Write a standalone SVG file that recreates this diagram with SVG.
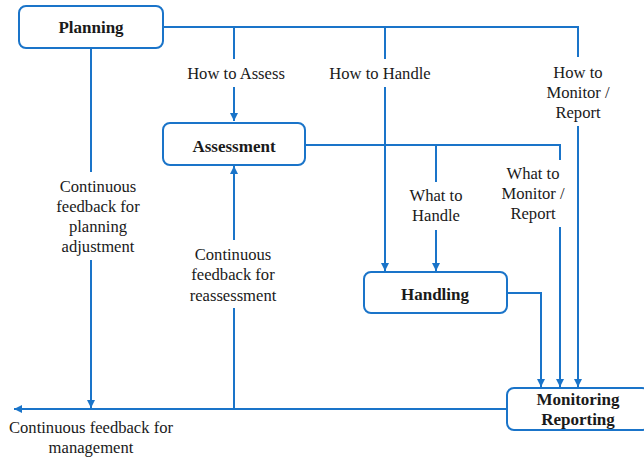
<svg xmlns="http://www.w3.org/2000/svg" width="644" height="461" viewBox="0 0 644 461">
<style>
.box{fill:#fff;stroke:#1a74c9;stroke-width:2}
.ln{fill:none;stroke:#1a74c9;stroke-width:2}
.t{font-family:"Liberation Serif","Times New Roman",serif;font-size:16.6px;fill:#1a1a1a;text-anchor:middle}
.b{font-family:"Liberation Serif","Times New Roman",serif;font-size:17px;font-weight:bold;fill:#1a1a1a;text-anchor:middle}
</style>
<defs>
<marker id="ah" viewBox="0 0 10 10" refX="10" refY="5" markerWidth="4" markerHeight="4" orient="auto" markerUnits="strokeWidth">
<path d="M0,0 L10,5 L0,10 z" fill="#1a74c9"/>
</marker>
</defs>
<rect width="644" height="461" fill="#fff"/>
<g id="connectors">
<path class="ln" d="M163,27 H578 V57"/>
<path class="ln" d="M578,126 V387" marker-end="url(#ah)"/>
<path class="ln" d="M234,27 V59"/>
<path class="ln" d="M234,87 V121" marker-end="url(#ah)"/>
<path class="ln" d="M385,27 V59"/>
<path class="ln" d="M385,87 V271" marker-end="url(#ah)"/>
<path class="ln" d="M305,145 H560 V160"/>
<path class="ln" d="M436,145 V182"/>
<path class="ln" d="M436,230 V271" marker-end="url(#ah)"/>
<path class="ln" d="M560,227 V387" marker-end="url(#ah)"/>
<path class="ln" d="M507,293 H541 V387" marker-end="url(#ah)"/>
<path class="ln" d="M507,409 H14" marker-end="url(#ah)"/>
<path class="ln" d="M91,49 V172"/>
<path class="ln" d="M91,260 V408" marker-end="url(#ah)"/>
<path class="ln" d="M234,409 V308"/>
<path class="ln" d="M234,240 V166" marker-end="url(#ah)"/>
</g>
<g id="labels">
<text class="t" x="236" y="79">How to Assess</text>
<text class="t" x="380" y="79">How to Handle</text>
<text class="t" x="578" y="78">How to</text>
<text class="t" x="578" y="98">Monitor /</text>
<text class="t" x="578" y="118">Report</text>
<text class="t" x="436" y="201">What to</text>
<text class="t" x="436" y="221">Handle</text>
<text class="t" x="533" y="179">What to</text>
<text class="t" x="533" y="199">Monitor /</text>
<text class="t" x="533" y="219">Report</text>
<text class="t" x="98" y="192">Continuous</text>
<text class="t" x="98" y="212">feedback for</text>
<text class="t" x="98" y="232">planning</text>
<text class="t" x="98" y="252">adjustment</text>
<text class="t" x="233" y="260">Continuous</text>
<text class="t" x="233" y="280">feedback for</text>
<text class="t" x="233" y="301">reassessment</text>
<text class="t" x="91" y="433">Continuous feedback for</text>
<text class="t" x="91" y="453">management</text>
</g>
<g id="planning">
<rect class="box" x="19" y="6" width="144" height="42" rx="7"/>
<text class="b" x="91" y="33">Planning</text>
</g>
<g id="assessment">
<rect class="box" x="163" y="123" width="142" height="42" rx="7"/>
<text class="b" x="234" y="152">Assessment</text>
</g>
<g id="handling">
<rect class="box" x="364" y="272" width="143" height="41" rx="7"/>
<text class="b" x="435" y="300">Handling</text>
</g>
<g id="monitoring">
<rect class="box" x="507" y="388" width="142" height="42" rx="7"/>
<text class="b" x="578" y="405">Monitoring</text>
<text class="b" x="578" y="425">Reporting</text>
</g>
</svg>
